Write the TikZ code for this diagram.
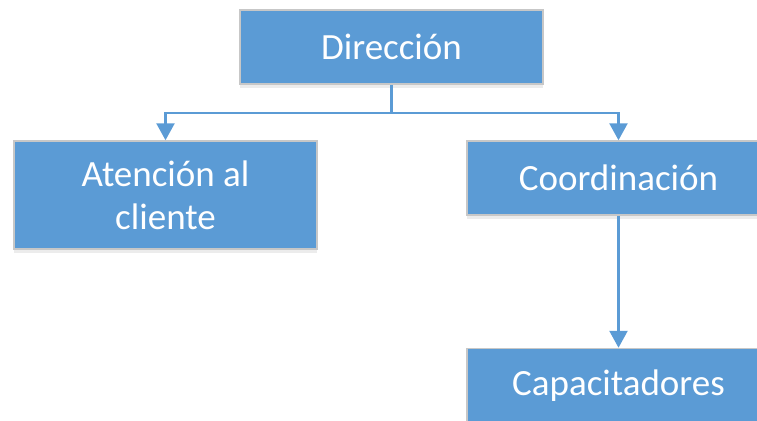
\documentclass[tikz,border=0pt]{standalone}
\usepackage{fontspec}
\setmainfont{Carlito}
\usetikzlibrary{arrows.meta,positioning,shadows}
\definecolor{boxblue}{HTML}{5B9BD5}

\begin{document}
\begin{tikzpicture}[x=1pt,y=-1pt, >={Triangle[width=18pt,length=17pt]},
    every node/.style={rectangle,fill=boxblue,draw=black!22,line width=1.5pt,
      text=white,minimum width=303pt,minimum height=74pt,align=center,
      font=\fontsize{37}{43}\selectfont,
      drop shadow={shadow xshift=0pt,shadow yshift=-4pt,opacity=0.15}} ]
    \useasboundingbox (0,0) rectangle (757,420);
    \node (direccion) at (391.5,47) {Dirección};
    \node[minimum height=108pt] (atencion) at (165.5,195) {Atención al\\cliente};
    \node (coordinacion) at (618.5,178) {Coordinación};
    \node[below=132pt of coordinacion] (capacitadores) {Capacitadores};
    \draw[->,boxblue,line width=2.5pt] (direccion.south) -- ++(0,28) -| (atencion.north);
    \draw[->,boxblue,line width=2.5pt] (direccion.south) -- ++(0,28) -| (coordinacion.north);
    \draw[->,boxblue,line width=2.5pt] (coordinacion) -- (capacitadores);
\end{tikzpicture}
\end{document}
